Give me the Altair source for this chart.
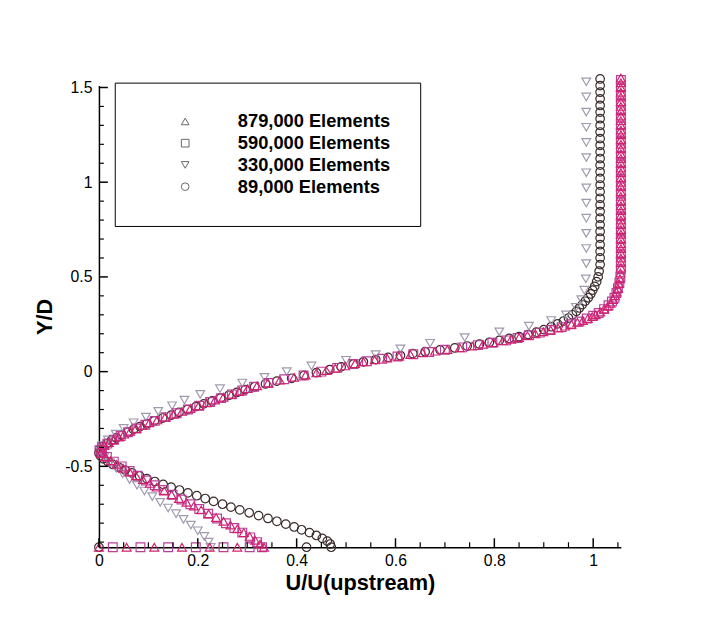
import altair as alt
import pandas as pd

SERIES = ["879,000 Elements", "590,000 Elements", "330,000 Elements", "89,000 Elements"]
SHAPES = ["triangle-up", "square", "triangle-down", "circle"]
COLORS = ["#d4206c", "#b8409a", "#a09aae", "#3a2c2c"]
SIZES = [100, 70, 80, 75]

# (Y/D, U/U) pairs
E879 = [
    (-0.927, 0.0), (-0.927, 0.056), (-0.927, 0.112), (-0.927, 0.168), (-0.927, 0.224), (-0.927, 0.28),
    (-0.927, 0.334), (-0.91, 0.326), (-0.89, 0.316), (-0.87, 0.305), (-0.85, 0.293), (-0.83, 0.280),
    (-0.81, 0.266), (-0.79, 0.252), (-0.77, 0.237), (-0.75, 0.222), (-0.73, 0.207), (-0.71, 0.192),
    (-0.69, 0.177), (-0.67, 0.162), (-0.65, 0.147), (-0.63, 0.132), (-0.61, 0.117), (-0.59, 0.103),
    (-0.57, 0.089), (-0.55, 0.075), (-0.53, 0.062), (-0.51, 0.049), (-0.49, 0.036), (-0.47, 0.024),
    (-0.45, 0.013), (-0.43, 0.004),
    (-0.405, 0.004), (-0.39, 0.011), (-0.375, 0.02), (-0.36, 0.03), (-0.345, 0.04), (-0.33, 0.051),
    (-0.315, 0.063), (-0.30, 0.075), (-0.285, 0.088), (-0.27, 0.102), (-0.255, 0.118), (-0.24, 0.134),
    (-0.225, 0.151), (-0.21, 0.168), (-0.195, 0.185), (-0.18, 0.202), (-0.165, 0.218), (-0.15, 0.235),
    (-0.135, 0.252), (-0.12, 0.268), (-0.105, 0.284), (-0.09, 0.301), (-0.075, 0.32), (-0.06, 0.342),
    (-0.045, 0.366), (-0.03, 0.395), (-0.018, 0.418), (-0.006, 0.44), (0.006, 0.46), (0.018, 0.478),
    (0.03, 0.498), (0.042, 0.518), (0.052, 0.535), (0.062, 0.558), (0.072, 0.583), (0.081, 0.607),
    (0.09, 0.63), (0.099, 0.655), (0.108, 0.68), (0.117, 0.705), (0.126, 0.73), (0.135, 0.755),
    (0.144, 0.777), (0.153, 0.798), (0.162, 0.817), (0.171, 0.834), (0.18, 0.85), (0.19, 0.867),
    (0.20, 0.883), (0.21, 0.899), (0.22, 0.914), (0.23, 0.929), (0.24, 0.943), (0.25, 0.956),
    (0.26, 0.968), (0.27, 0.979), (0.28, 0.989), (0.29, 0.998), (0.30, 1.005), (0.315, 1.014),
    (0.33, 1.022), (0.345, 1.029), (0.36, 1.035), (0.38, 1.04), (0.40, 1.044), (0.42, 1.047),
    (0.44, 1.05), (0.465, 1.052), (0.49, 1.054), (0.52, 1.055),
    (0.55, 1.056), (0.575, 1.056), (0.6, 1.056), (0.625, 1.056), (0.65, 1.056), (0.675, 1.056),
    (0.7, 1.056), (0.725, 1.056), (0.75, 1.056), (0.775, 1.056), (0.8, 1.056), (0.825, 1.056),
    (0.85, 1.056), (0.875, 1.056), (0.9, 1.056), (0.925, 1.056), (0.95, 1.056), (0.975, 1.056),
    (1.0, 1.056), (1.025, 1.056), (1.05, 1.056), (1.075, 1.056), (1.1, 1.056), (1.125, 1.056),
    (1.15, 1.056), (1.175, 1.056), (1.2, 1.056), (1.225, 1.056), (1.25, 1.056), (1.275, 1.056),
    (1.3, 1.056), (1.325, 1.056), (1.35, 1.056), (1.375, 1.056), (1.4, 1.056), (1.425, 1.056),
    (1.45, 1.056), (1.475, 1.056), (1.5, 1.056), (1.525, 1.056), (1.55, 1.056),
]

E590 = [
    (-0.927, 0.028), (-0.927, 0.084), (-0.927, 0.14), (-0.927, 0.196), (-0.927, 0.252), (-0.927, 0.305),
    (-0.927, 0.33), (-0.90, 0.32), (-0.875, 0.306), (-0.85, 0.29), (-0.825, 0.274), (-0.80, 0.257),
    (-0.775, 0.239), (-0.75, 0.221), (-0.725, 0.203), (-0.70, 0.185), (-0.675, 0.167), (-0.65, 0.149),
    (-0.625, 0.131), (-0.60, 0.113), (-0.575, 0.095), (-0.55, 0.078), (-0.525, 0.062), (-0.50, 0.046),
    (-0.475, 0.03), (-0.45, 0.016), (-0.43, 0.006), (-0.415, 0.001),
    (-0.40, 0.006), (-0.38, 0.017), (-0.36, 0.03), (-0.34, 0.044), (-0.32, 0.059), (-0.30, 0.076),
    (-0.28, 0.094), (-0.26, 0.113), (-0.24, 0.135), (-0.22, 0.157), (-0.20, 0.18), (-0.18, 0.203),
    (-0.16, 0.225), (-0.14, 0.247), (-0.12, 0.269), (-0.10, 0.29), (-0.08, 0.314), (-0.06, 0.343),
    (-0.04, 0.375), (-0.02, 0.414), (0.0, 0.45), (0.02, 0.482), (0.04, 0.515), (0.055, 0.542),
    (0.068, 0.573), (0.08, 0.604), (0.092, 0.636), (0.104, 0.668), (0.116, 0.70), (0.128, 0.735),
    (0.14, 0.767), (0.152, 0.796), (0.165, 0.824), (0.178, 0.847), (0.192, 0.87), (0.206, 0.892),
    (0.22, 0.913), (0.235, 0.936), (0.25, 0.955), (0.265, 0.972), (0.28, 0.987), (0.295, 1.0),
    (0.31, 1.011), (0.33, 1.022), (0.35, 1.031), (0.37, 1.038), (0.39, 1.043), (0.415, 1.047),
    (0.44, 1.05), (0.47, 1.053), (0.50, 1.055),
    (0.54, 1.056), (0.58, 1.056), (0.62, 1.056), (0.66, 1.056), (0.70, 1.056), (0.74, 1.056),
    (0.78, 1.056), (0.82, 1.056), (0.86, 1.056), (0.90, 1.056), (0.94, 1.056), (0.98, 1.056),
    (1.02, 1.056), (1.06, 1.056), (1.10, 1.056), (1.14, 1.056), (1.18, 1.056), (1.22, 1.056),
    (1.26, 1.056), (1.30, 1.056), (1.34, 1.056), (1.38, 1.056), (1.42, 1.056), (1.46, 1.056),
    (1.50, 1.056), (1.54, 1.056),
]

E330 = [
    (-0.927, 0.226), (-0.90, 0.222), (-0.87, 0.213), (-0.84, 0.2), (-0.81, 0.186), (-0.78, 0.171),
    (-0.75, 0.156), (-0.72, 0.14), (-0.69, 0.124), (-0.66, 0.108), (-0.63, 0.092), (-0.60, 0.077),
    (-0.57, 0.062), (-0.54, 0.048), (-0.51, 0.035), (-0.48, 0.022), (-0.45, 0.011), (-0.42, 0.003),
    (-0.39, 0.006), (-0.36, 0.018), (-0.33, 0.034), (-0.30, 0.05), (-0.27, 0.07), (-0.24, 0.095),
    (-0.21, 0.12), (-0.18, 0.148), (-0.15, 0.173), (-0.12, 0.205), (-0.09, 0.245), (-0.06, 0.29),
    (-0.03, 0.335), (0.0, 0.38), (0.03, 0.43), (0.06, 0.50), (0.09, 0.56), (0.12, 0.61),
    (0.15, 0.67), (0.18, 0.74), (0.21, 0.81), (0.24, 0.87), (0.27, 0.915), (0.30, 0.945),
    (0.34, 0.965), (0.38, 0.976), (0.43, 0.982), (0.49, 0.985),
    (0.57, 0.986), (0.65, 0.986), (0.73, 0.986), (0.81, 0.986), (0.89, 0.986), (0.97, 0.986),
    (1.05, 0.986), (1.13, 0.986), (1.21, 0.986), (1.29, 0.986), (1.37, 0.986), (1.45, 0.986),
    (1.53, 0.986),
]

E89 = [
    (-0.927, 0.0), (-0.927, 0.42),
    (-0.927, 0.47), (-0.91, 0.468), (-0.895, 0.462), (-0.88, 0.452), (-0.865, 0.44), (-0.85, 0.426),
    (-0.835, 0.41), (-0.82, 0.395), (-0.805, 0.378), (-0.79, 0.36), (-0.775, 0.342), (-0.76, 0.323),
    (-0.745, 0.304), (-0.73, 0.285), (-0.715, 0.267), (-0.70, 0.25), (-0.685, 0.232), (-0.67, 0.215),
    (-0.655, 0.198), (-0.64, 0.18), (-0.625, 0.163), (-0.61, 0.146), (-0.595, 0.13), (-0.58, 0.113),
    (-0.565, 0.097), (-0.55, 0.082), (-0.535, 0.067), (-0.52, 0.053), (-0.505, 0.04), (-0.49, 0.028),
    (-0.475, 0.018), (-0.46, 0.009), (-0.445, 0.003), (-0.43, 0.0),
    (-0.41, 0.002), (-0.395, 0.008), (-0.38, 0.016), (-0.365, 0.025), (-0.35, 0.035), (-0.335, 0.046),
    (-0.32, 0.058), (-0.305, 0.07), (-0.29, 0.083), (-0.275, 0.097), (-0.26, 0.112), (-0.245, 0.129),
    (-0.23, 0.146), (-0.215, 0.162), (-0.20, 0.179), (-0.185, 0.196), (-0.17, 0.212), (-0.155, 0.229),
    (-0.14, 0.246), (-0.125, 0.263), (-0.11, 0.279), (-0.095, 0.296), (-0.08, 0.315), (-0.065, 0.337),
    (-0.05, 0.36), (-0.035, 0.39), (-0.02, 0.415), (-0.005, 0.44), (0.01, 0.467), (0.025, 0.49),
    (0.04, 0.515), (0.052, 0.535), (0.064, 0.56), (0.075, 0.585), (0.085, 0.61), (0.095, 0.635),
    (0.105, 0.66), (0.115, 0.69), (0.125, 0.72), (0.135, 0.745), (0.145, 0.77), (0.155, 0.79),
    (0.165, 0.81), (0.175, 0.83), (0.185, 0.85), (0.196, 0.868), (0.208, 0.885), (0.222, 0.90),
    (0.237, 0.915), (0.252, 0.928), (0.267, 0.94), (0.283, 0.95), (0.30, 0.958), (0.318, 0.966),
    (0.336, 0.972), (0.354, 0.978), (0.372, 0.984), (0.39, 0.99), (0.41, 0.995), (0.43, 0.999),
    (0.45, 1.003), (0.475, 1.007), (0.50, 1.01), (0.53, 1.012),
    (0.565, 1.014), (0.60, 1.014), (0.635, 1.014), (0.67, 1.014), (0.705, 1.014), (0.74, 1.014),
    (0.775, 1.014), (0.81, 1.014), (0.845, 1.014), (0.88, 1.014), (0.915, 1.014), (0.95, 1.014),
    (0.985, 1.014), (1.02, 1.014), (1.055, 1.014), (1.09, 1.014), (1.125, 1.014), (1.16, 1.014),
    (1.195, 1.014), (1.23, 1.014), (1.265, 1.014), (1.30, 1.014), (1.335, 1.014), (1.37, 1.014),
    (1.405, 1.014), (1.44, 1.014), (1.475, 1.014), (1.51, 1.014), (1.545, 1.014),
]

X_MAJOR = [0, 0.2, 0.4, 0.6, 0.8, 1.0]
X_MINOR = [0.05, 0.1, 0.15, 0.25, 0.3, 0.35, 0.45, 0.5, 0.55, 0.65, 0.7, 0.75, 0.85, 0.9, 0.95, 1.05]
Y_MAJOR = [-0.5, 0, 0.5, 1.0, 1.5]
Y_MINOR = [-0.9, -0.8, -0.7, -0.6, -0.4, -0.3, -0.2, -0.1, 0.1, 0.2, 0.3, 0.4,
           0.6, 0.7, 0.8, 0.9, 1.1, 1.2, 1.3, 1.4]

FONT = "Liberation Sans, Arial, sans-serif"
W, H = 528, 467

rows = []
for name, pts in [(SERIES[3], E89), (SERIES[2], E330), (SERIES[1], E590), (SERIES[0], E879)]:
    for yv, uv in pts:
        rows.append({"series": name, "mesh": name, "u": uv, "y": yv})
df = pd.DataFrame(rows)

xscale = alt.Scale(domain=[0, 1.056], nice=False, zero=False)
yscale = alt.Scale(domain=[-0.927, 1.51], nice=False, zero=False)

# colour / size scales list the series in reverse order so that their (hidden)
# legends are not merged with the visible shape legend
REV = list(reversed(SERIES))

points = alt.Chart(df).mark_point(filled=False, strokeWidth=1.2, opacity=1).encode(
    x=alt.X("u:Q", scale=xscale, axis=alt.Axis(
        values=X_MAJOR, labelExpr="'' + datum.value", ticks=False, grid=False,
        domainColor="black", domainWidth=1.5, labelFontSize=16, labelFont=FONT,
        labelColor="black", labelPadding=5, labelFlush=False,
        title="U/U(upstream)", titleFontSize=22, titleFont=FONT, titleFontWeight="bold",
        titleColor="black", titlePadding=5)),
    y=alt.Y("y:Q", scale=yscale, axis=alt.Axis(
        values=Y_MAJOR, labelExpr="'' + datum.value", ticks=False, grid=False,
        domainColor="black", domainWidth=1.5, labelFontSize=16, labelFont=FONT,
        labelColor="black", labelPadding=7, labelFlush=False,
        title="Y/D", titleFontSize=22, titleFont=FONT, titleFontWeight="bold",
        titleColor="black", titlePadding=8)),
    shape=alt.Shape("mesh:N", scale=alt.Scale(domain=SERIES, range=SHAPES), legend=alt.Legend(
        title=None, orient="none", legendX=16, legendY=-3, padding=30,
        strokeColor="black", symbolOffset=32, labelOffset=44, labelFontSize=18.5,
        labelFontWeight="bold", labelFont=FONT, labelColor="black", symbolSize=60,
        symbolStrokeWidth=1, symbolStrokeColor="#666666", symbolFillColor="transparent",
        rowPadding=3)),
    color=alt.Color("series:N", scale=alt.Scale(domain=REV, range=list(reversed(COLORS))), legend=None),
    size=alt.Size("series:N", scale=alt.Scale(domain=REV, range=list(reversed(SIZES))), legend=None),
)

xmaj = alt.Chart(pd.DataFrame({"u": X_MAJOR})).mark_rule(color="black", strokeWidth=1.5).encode(
    x=alt.X("u:Q", scale=xscale), y=alt.value(H), y2=alt.value(H - 9))
xmin = alt.Chart(pd.DataFrame({"u": X_MINOR})).mark_rule(color="black", strokeWidth=1.2).encode(
    x=alt.X("u:Q", scale=xscale), y=alt.value(H), y2=alt.value(H - 5))
ymaj = alt.Chart(pd.DataFrame({"y": Y_MAJOR})).mark_rule(color="black", strokeWidth=1.5).encode(
    y=alt.Y("y:Q", scale=yscale), x=alt.value(0), x2=alt.value(9))
ymin = alt.Chart(pd.DataFrame({"y": Y_MINOR})).mark_rule(color="black", strokeWidth=1.2).encode(
    y=alt.Y("y:Q", scale=yscale), x=alt.value(0), x2=alt.value(5))

chart = alt.layer(points, xmaj, xmin, ymaj, ymin).properties(
    width=W, height=H,
    autosize=alt.AutoSizeParams(type="none"),
    padding={"left": 92, "top": 75, "right": 76, "bottom": 60},
).configure(background="white").configure_view(strokeWidth=0, stroke=None)

chart.save("out.html", embed_options={"renderer": "svg", "actions": False})
